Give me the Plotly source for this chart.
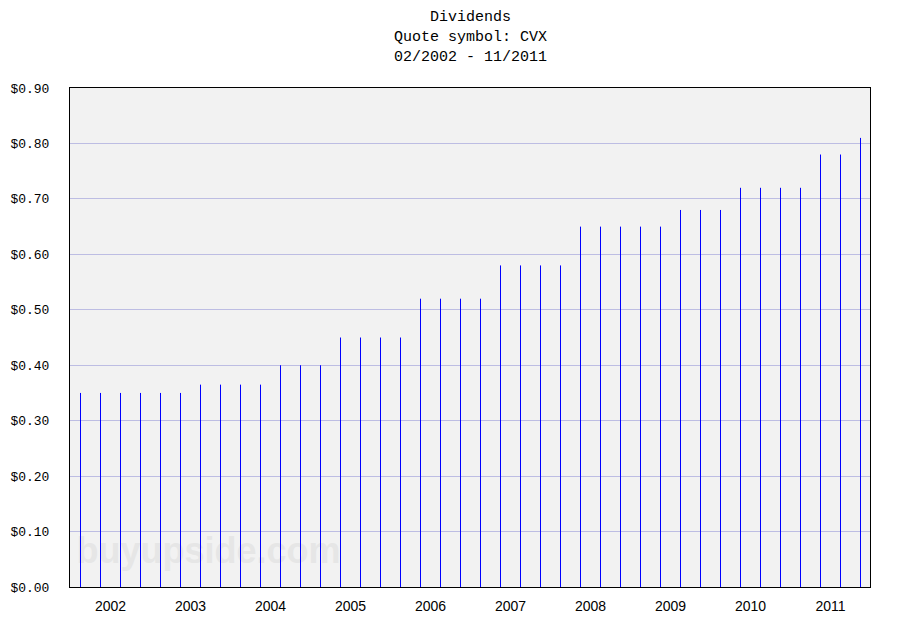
import plotly.graph_objects as go

years = ["2002", "2003", "2004", "2005", "2006", "2007", "2008", "2009", "2010", "2011"]
dividends = [0.35, 0.35, 0.35, 0.35, 0.35, 0.35,
             0.365, 0.365, 0.365, 0.365,
             0.40, 0.40, 0.40,
             0.45, 0.45, 0.45, 0.45,
             0.52, 0.52, 0.52, 0.52,
             0.58, 0.58, 0.58, 0.58,
             0.65, 0.65, 0.65, 0.65, 0.65,
             0.68, 0.68, 0.68,
             0.72, 0.72, 0.72, 0.72,
             0.78, 0.78,
             0.81]
y_ticks = [0.0, 0.1, 0.2, 0.3, 0.4, 0.5, 0.6, 0.7, 0.8, 0.9]
title_lines = ["Dividends", "Quote symbol: CVX", "02/2002 - 11/2011"]

idx = list(range(len(dividends)))
year_pos = [1.5 + 4 * k for k in range(len(years))]

fig = go.Figure()

# watermark (behind bars)
fig.add_trace(go.Scatter(
    x=[6.4], y=[0.059], mode="text", text=["<b>buyupside.com</b>"],
    textfont=dict(family="Liberation Sans", size=36, color="#E6E6E6"),
    hoverinfo="skip", showlegend=False,
))

fig.add_trace(go.Scatter(
    x=idx, y=[0] * len(idx), mode="markers",
    marker=dict(size=0.1, color="rgba(0,0,0,0)"),
    error_y=dict(type="data", symmetric=False, array=dividends, arrayminus=[0] * len(idx),
                 width=0, thickness=1, color="#0000FF"),
    showlegend=False,
))

# page body has an 8px margin, so the figure is offset by (8, 8)
m_l, m_r, m_t, m_b = 62, 38, 80, 52
plot_h = 631 - m_t - m_b
for i, line in enumerate(title_lines):
    fig.add_annotation(text=line, xref="paper", yref="paper", x=0.5, xanchor="center",
                       y=1 + (70.5 - 20 * i) / plot_h, yanchor="middle", showarrow=False,
                       font=dict(family="Liberation Mono", size=15, color="black"))

fig.update_layout(
    width=900, height=631,
    paper_bgcolor="white", plot_bgcolor="#F2F2F2",
    margin=dict(l=m_l, r=m_r, t=m_t, b=m_b),
    xaxis=dict(range=[-0.525, 39.475], tickvals=year_pos, ticktext=years, automargin=False,
               showgrid=False, zeroline=False, showline=True, linecolor="black", linewidth=1, mirror=True,
               ticks="outside", ticklen=6, tickcolor="rgba(0,0,0,0)",
               tickfont=dict(family="Liberation Sans", size=14, color="black")),
    yaxis=dict(range=[0, 0.9], tickvals=y_ticks, tickformat="$.2f", automargin=False,
               showgrid=True, gridcolor="#BDBDE3", gridwidth=1, zeroline=False,
               showline=True, linecolor="black", linewidth=1, mirror=True,
               ticks="outside", ticklen=17, tickcolor="rgba(0,0,0,0)",
               tickfont=dict(family="Liberation Mono", size=13, color="black")),
)

fig.write_html("out.html")
